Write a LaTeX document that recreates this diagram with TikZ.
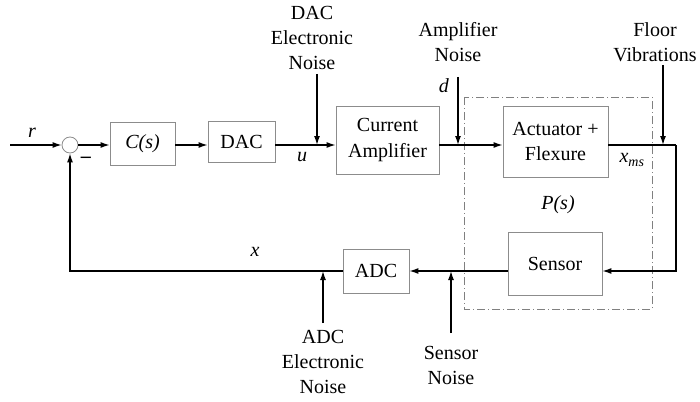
\documentclass[tikz,border=0pt]{standalone}
\usepackage{fontspec}
\setmainfont{Liberation Serif}
\usetikzlibrary{arrows.meta, positioning}
\tikzset{
  block/.style={rectangle, draw=gray!90, line width=0.8pt, align=center, inner sep=0pt, font=\fontsize{20}{25.5}\selectfont},
  sumnode/.style={circle, draw=gray!90, line width=0.8pt, minimum size=16pt, inner sep=0pt},
  arrow/.style={line width=1.3pt, -{Latex[length=9pt,width=6pt]}},
  wire/.style={line width=1.3pt},
  txt/.style={inner sep=0pt, align=center, font=\fontsize{20}{25}\selectfont},
  frame/.style={draw=gray, line width=0.8pt, dash pattern=on 8pt off 3pt on 1pt off 3pt}
}

\begin{document}
\begin{tikzpicture}[x=1pt, y=-1pt]
  \useasboundingbox (0,0) rectangle (700,401);

  % plant P(s)
  \draw[frame] (464,97) rectangle (652,309);
  \node (plant) [txt] at (558,205) {\textit{P(s)}};

  \coordinate (rin) at (10,145);
  \node (sum) [sumnode] at (70,145) {};
  \node (cs) [block, minimum width=65pt, minimum height=43pt] at (142.5,143.5) {\textit{C(s)}};
  \node (dac) [block, minimum width=67pt, minimum height=41pt] at (241.5,142) {DAC};
  \node (amp) [block, minimum width=103pt, minimum height=68pt] at (387.5,140) {Current\\Amplifier};
  \node (act) [block, minimum width=105pt, minimum height=71pt] at (555.5,141.5) {Actuator +\\Flexure};
  \node (sensor) [block, minimum width=94pt, minimum height=63pt] at (555,263.5) {Sensor};
  \node (adc) [block, minimum width=66pt, minimum height=44pt] at (376,271) {ADC};

  % noise inputs
  \coordinate (dacn) at (317,74);
  \coordinate (ampn) at (458,77);
  \coordinate (floor) at (663,65);
  \coordinate (sensn) at (451,333);
  \coordinate (adcn) at (323,323);
  \coordinate (corner) at (676,145);
  \coordinate (back) at (70,271);

  \node (dacnt) [txt, above=4pt of dacn, xshift=-5pt] {DAC\\Electronic\\Noise};
  \node (ampnt) [txt, above=15pt of ampn] {Amplifier\\Noise};
  \node (floort) [txt, above=3pt of floor, xshift=-8pt] {Floor\\Vibrations};
  \node (adcnt) [txt, below=7pt of adcn] {ADC\\Electronic\\Noise};
  \node (sensnt) [txt, below=13pt of sensn] {Sensor\\Noise};

  % signal names
  \node (rlab) [txt] at (32,133) {\textit{r}};
  \node (minus) [txt] at (86,160) {\textbf{--}};
  \node (ulab) [txt] at (302,157) {\textit{u}};
  \node (dlab) [txt] at (444,86) {\textit{d}};
  \node (xms) [txt] at (632,160) {\textit{x}\textsubscript{\textit{ms}}};
  \node (xlab) [txt] at (255,252) {\textit{x}};

  \draw[arrow] (rin) -- (sum);
  \draw[arrow] (sum) -- (cs.west |- sum);
  \draw[arrow] (cs.east |- sum) -- (dac.west |- sum);
  \draw[arrow] (dac.east |- sum) -- (amp.west |- sum);
  \draw[arrow] (amp.east |- sum) -- (act.west |- sum);
  \draw[wire] (act.east |- sum) -- (corner);
  \draw[arrow] (corner) |- (sensor.east |- adc);
  \draw[arrow] (sensor.west |- adc) -- (adc);
  \draw[arrow] (adc) -- (back) -- (sum);

  \draw[arrow] (dacn) -- (dacn |- sum);
  \draw[arrow] (ampn) -- (ampn |- sum);
  \draw[arrow] (floor) -- (floor |- sum);
  \draw[arrow] (sensn) -- (sensn |- adc);
  \draw[arrow] (adcn) -- (adcn |- adc);

\end{tikzpicture}
\end{document}
